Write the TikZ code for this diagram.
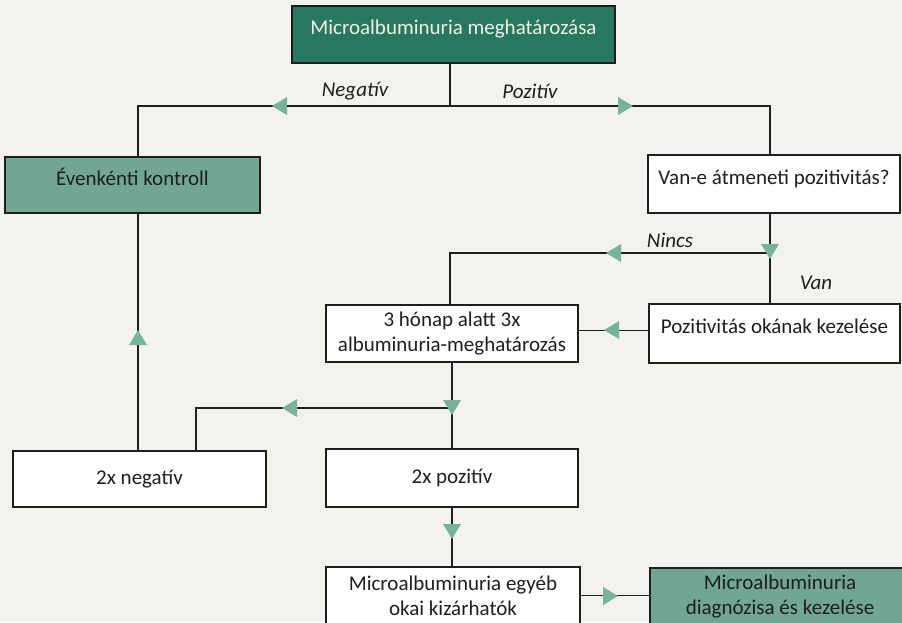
\documentclass[tikz,border=0pt]{standalone}
\usepackage{fontspec}
\setmainfont{Carlito}
\definecolor{dkgreen}{RGB}{38,120,96}
\definecolor{ltgreen}{RGB}{112,166,146}
\definecolor{trigreen}{RGB}{118,178,156}
\definecolor{bgc}{RGB}{244,242,237}
\definecolor{ink}{RGB}{30,30,30}
\newcommand{\hiTxt}[1]{\raisebox{0pt}[0pt][0pt]{#1}}
\begin{document}
\begin{tikzpicture}[x=1pt,y=-1pt,
  box/.style={draw=ink,line width=1.6pt,rectangle,inner sep=0pt,
    font=\fontsize{21}{25}\selectfont,align=center,text=ink},
  plainbox/.style={box,fill=white},
  darkbox/.style={box,fill=dkgreen,text={rgb,255:red,245;green,240;blue,225}},
  lightbox/.style={box,fill=ltgreen},
  conn/.style={draw=ink,line width=1.6pt},
  lbl/.style={font=\fontsize{21}{24}\selectfont\itshape,text=ink},
  tri/.pic={\fill[trigreen] (8,0) -- (-7,-9) -- (-7,9) -- cycle;}
]
\clip (0,0) rectangle (902,622);
\fill[bgc] (0,0) rectangle (902,622);
\useasboundingbox (0,0) rectangle (902,622);

% nodes
\node[darkbox,minimum width=323,minimum height=57] (top) at (453.5,34.5) {\hiTxt{Microalbuminuria meghatározása}};
\node[lightbox,minimum width=255,minimum height=56] (even) at (132.5,185) {\hiTxt{Évenkénti kontroll}};
\node[plainbox,minimum width=252,minimum height=58] (vane) at (774,184) {\hiTxt{Van-e átmeneti pozitivitás?}};
\node[plainbox,minimum width=251,minimum height=59] (pozok) at (774.5,333.5) {\hiTxt{Pozitivitás okának kezelése}};
\node[plainbox,minimum width=252,minimum height=57] (three) at (452,333.5) {3 hónap alatt 3x\\albuminuria-meghatározás};
\node[plainbox,minimum width=253,minimum height=56] (neg) at (139.5,479) {2x negatív};
\node[plainbox,minimum width=252,minimum height=58] (pos) at (452,478) {2x pozitív};
\node[plainbox,minimum width=254,minimum height=57] (egyeb) at (453,595.5) {Microalbuminuria egyéb\\okai kizárhatók};
\node[lightbox,minimum width=260,minimum height=57] (diag) at (780,596.5) {Microalbuminuria\\diagnózisa és kezelése};

% junctions
\coordinate (j1) at (450,106);
\coordinate (jL) at (138,106);
\coordinate (jR) at (770,106);
\coordinate (jN) at (770,253);
\coordinate (jN2) at (450,253);
\coordinate (jD) at (452,408);
\coordinate (jD2) at (196,408);

% connectors
\draw[conn] (top.south -| j1) -- (j1);
\draw[conn] (even.north -| jL) -- (jL) -- (jR) -- (vane.north -| jR);
\draw[conn] (even.south -| jL) -- (neg.north -| jL);
\draw[conn] (vane.south -| jR) -- (pozok.north -| jR);
\draw[conn] (jN) -- (jN2) -- (three.north -| jN2);
\draw[conn] ([yshift=3pt]pozok.west) -- ([yshift=3pt]three.east);
\draw[conn] (three.south) -- (pos.north);
\draw[conn] (jD) -- (jD2) -- (neg.north -| jD2);
\draw[conn] (pos.south) -- (pos.south |- egyeb.north);
\draw[conn] (egyeb.east) -- (egyeb.east -| diag.west);

% arrow markers
\pic[rotate=180] at (280,106) {tri};
\pic at (625,106) {tri};
\pic[rotate=90] at (138,338) {tri};
\pic[rotate=-90] at (770,251) {tri};
\pic[rotate=180] at (614,253) {tri};
\pic[rotate=180] at (612,330) {tri};
\pic[rotate=-90] at (452,407) {tri};
\pic[rotate=180] at (290,408) {tri};
\pic[rotate=-90] at (452,531) {tri};
\pic at (610,596) {tri};

% labels
\node[lbl] (lneg) at (355,91) {Negatív};
\node[lbl] (lpos) at (530,91) {Pozitív};
\node[lbl] (lnincs) at (670,240) {Nincs};
\node[lbl] (lvan) at (816,283) {Van};
\end{tikzpicture}
\end{document}
